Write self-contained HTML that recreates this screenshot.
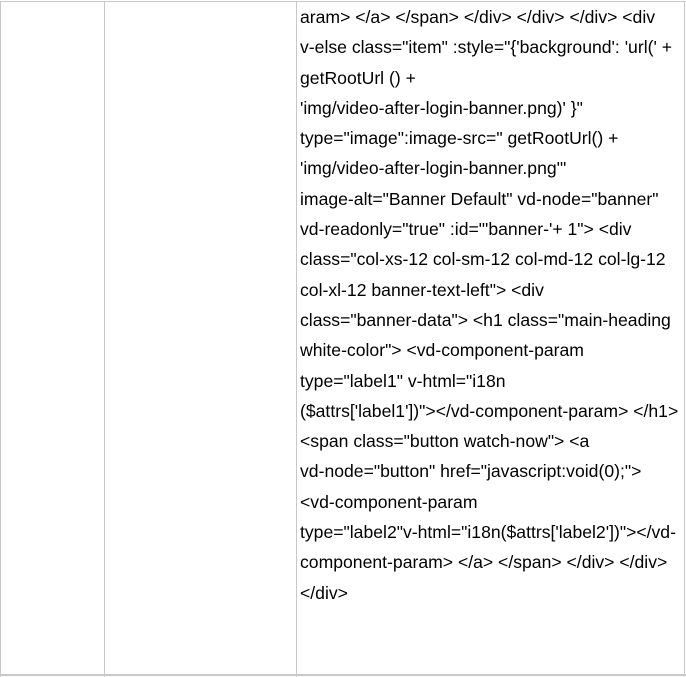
<!DOCTYPE html>
<html><head><meta charset="utf-8"><style>
html,body{margin:0;padding:0;background:#fff;}
body{width:686px;height:677px;position:relative;overflow:hidden;font-family:"Liberation Sans",Arial,sans-serif;}
.l{position:absolute;background:#c8c8c8;}
.t{position:absolute;left:300px;top:2px;font-size:17.6px;line-height:30.3px;color:#000;white-space:nowrap;}
</style></head><body>
<div class="l" style="left:0;top:1px;width:686px;height:1px"></div>
<div class="l" style="left:0;top:674px;width:686px;height:2px"></div>
<div class="l" style="left:0;top:1px;width:1px;height:676px"></div>
<div class="l" style="left:104px;top:1px;width:1px;height:676px"></div>
<div class="l" style="left:296px;top:1px;width:1px;height:676px"></div>
<div class="l" style="left:684px;top:1px;width:1px;height:676px"></div>
<div class="t">aram&gt; &lt;/a&gt; &lt;/span&gt; &lt;/div&gt; &lt;/div&gt; &lt;/div&gt; &lt;div<br>
v-else class="item" :style="{'background': 'url(' +<br>
getRootUrl () +<br>
'img/video-after-login-banner.png)' }"<br>
type="image":image-src=" getRootUrl() +<br>
'img/video-after-login-banner.png'"<br>
image-alt="Banner Default" vd-node="banner"<br>
vd-readonly="true" :id="'banner-'+ 1"&gt; &lt;div<br>
class="col-xs-12 col-sm-12 col-md-12 col-lg-12<br>
col-xl-12 banner-text-left"&gt; &lt;div<br>
class="banner-data"&gt; &lt;h1 class="main-heading<br>
white-color"&gt; &lt;vd-component-param<br>
type="label1" v-html="i18n<br>
($attrs['label1'])"&gt;&lt;/vd-component-param&gt; &lt;/h1&gt;<br>
&lt;span class="button watch-now"&gt; &lt;a<br>
vd-node="button" href="javascript:void(0);"&gt;<br>
&lt;vd-component-param<br>
type="label2"v-html="i18n($attrs['label2'])"&gt;&lt;/vd-<br>
component-param&gt; &lt;/a&gt; &lt;/span&gt; &lt;/div&gt; &lt;/div&gt;<br>
&lt;/div&gt;</div>
</body></html>
